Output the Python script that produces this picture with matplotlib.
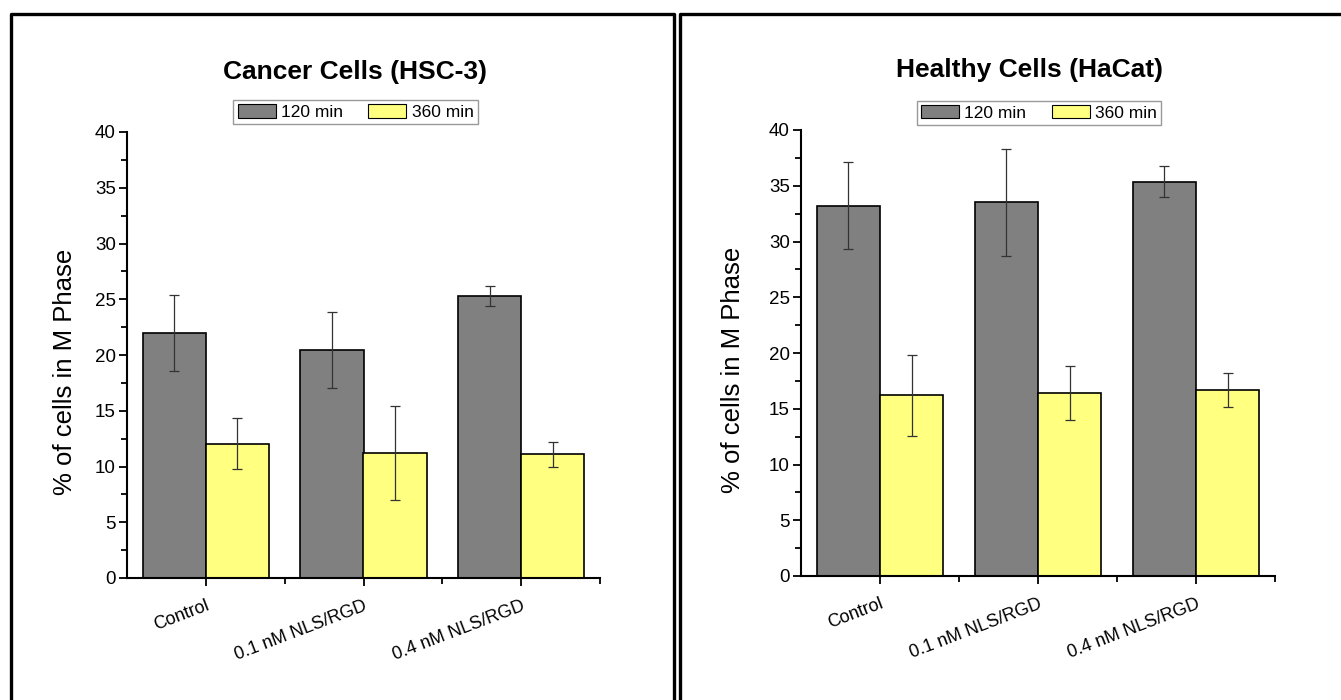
import matplotlib
matplotlib.use("Agg")
import matplotlib.pyplot as plt
import numpy as np
from matplotlib.lines import Line2D
from matplotlib.patches import Patch
from matplotlib.ticker import MultipleLocator, FixedLocator

plt.rcParams['font.family'] = ['Liberation Sans', 'DejaVu Sans']

# data
groups = ["Control", "0.1 nM NLS/RGD", "0.4 nM NLS/RGD"]
series = ["120 min", "360 min"]

cancer_120 = [22.0, 20.45, 25.3]
cancer_120_err = [3.4, 3.4, 0.93]
cancer_360 = [12.05, 11.2, 11.1]
cancer_360_err = [2.3, 4.2, 1.1]

healthy_120 = [33.2, 33.5, 35.35]
healthy_120_err = [3.9, 4.8, 1.4]
healthy_360 = [16.2, 16.4, 16.7]
healthy_360_err = [3.6, 2.45, 1.5]

colors = ["#808080", "#FFFF80"]
W, H = 1341, 700

fig = plt.figure(figsize=(W / 100, H / 100), dpi=100)


def px_box(x0, x1, y_top, y_bot):
    return [x0 / W, 1 - y_bot / H, (x1 - x0) / W, (y_bot - y_top) / H]


def draw_panel(ax, title, v120, e120, v360, e360, leg_x, leg_y, lab_x):
    x = np.arange(len(groups))
    bw = 0.4
    ax.bar(x - bw / 2, v120, bw, color=colors[0], edgecolor="black", linewidth=1.2, zorder=2)
    ax.bar(x + bw / 2, v360, bw, color=colors[1], edgecolor="black", linewidth=1.2, zorder=2)
    ax.errorbar(x - bw / 2, v120, yerr=e120, fmt="none", ecolor="#333333",
                elinewidth=0.9, capsize=3.5, capthick=0.9, zorder=3)
    ax.errorbar(x + bw / 2, v360, yerr=e360, fmt="none", ecolor="#333333",
                elinewidth=0.9, capsize=3.5, capthick=0.9, zorder=3)

    ax.set_xlim(-0.5, 2.5)
    ax.set_ylim(0, 40)
    ax.yaxis.set_major_locator(MultipleLocator(5))
    ax.yaxis.set_minor_locator(MultipleLocator(2.5))
    ax.set_xticks(x)
    ax.xaxis.set_minor_locator(FixedLocator([0.5, 1.5, 2.5]))
    ax.set_xticklabels(groups, rotation=21, ha="right", rotation_mode="anchor")
    ax.tick_params(axis="both", which="major", length=6, width=1.3, direction="out")
    ax.tick_params(axis="both", which="minor", length=4, width=1.3, direction="out")
    ax.tick_params(axis="y", which="major", labelsize=13.5, pad=2)
    ax.tick_params(axis="x", which="major", labelsize=13, pad=8)

    for s in ["top", "right"]:
        ax.spines[s].set_visible(False)
    for s in ["left", "bottom"]:
        ax.spines[s].set_linewidth(1.5)

    ax.set_ylabel("% of cells in M Phase", fontsize=18.5)
    ax.yaxis.set_label_coords(lab_x, 0.462)
    ax.set_title(title, fontsize=19, fontweight="bold", pad=38, x=0.482)

    handles = [Patch(facecolor=c, edgecolor="black", linewidth=0.8) for c in colors]
    leg = ax.legend(handles, series, ncol=2, loc="upper center", bbox_to_anchor=(leg_x, leg_y),
                    fontsize=12.5, frameon=True, fancybox=False, handlelength=2.2,
                    handleheight=0.8, borderpad=0.25, handletextpad=0.3, columnspacing=1.45,
                    borderaxespad=0)
    leg.get_frame().set_edgecolor("#808080")
    leg.get_frame().set_linewidth(1.0)


ax1 = fig.add_axes(px_box(127, 600, 132, 578))
draw_panel(ax1, "Cancer Cells (HSC-3)", cancer_120, cancer_120_err, cancer_360, cancer_360_err,
           0.483, 1.072, -0.106)

ax2 = fig.add_axes(px_box(801, 1275, 130, 576))
draw_panel(ax2, "Healthy Cells (HaCat)", healthy_120, healthy_120_err, healthy_360, healthy_360_err,
           0.502, 1.066, -0.118)

# panel frames
def fig_line(xs, ys):
    fig.add_artist(Line2D([v / W for v in xs], [1 - v / H for v in ys],
                          color="black", linewidth=2.4, solid_capstyle="projecting"))

fig_line([11, 11, 674, 674], [705, 14, 14, 705])
fig_line([680, 680, 1345], [705, 14, 14])

fig.savefig("out.png", dpi=100, facecolor="white")
